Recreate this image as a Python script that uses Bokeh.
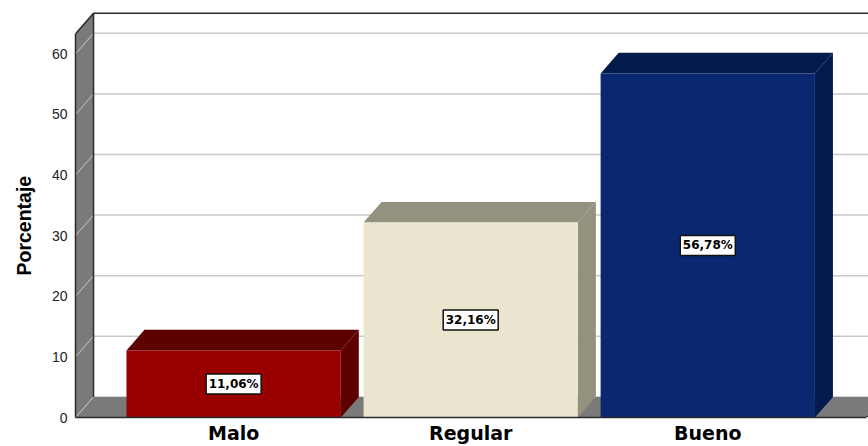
from bokeh.embed import file_html
from bokeh.models import FixedTicker, Range1d, Title
from bokeh.plotting import figure
from bokeh.resources import INLINE
from bokeh.core.properties import value

categories = ["Malo", "Regular", "Bueno"]
percentages = [11.06, 32.16, 56.78]
y_ticks = [0, 10, 20, 30, 40, 50, 60]
front_colors = ["#990000", "#ebe5d0", "#0a2870"]
shade_colors = ["#5c0000", "#95917f", "#051a4c"]

Y_TOP = 63.3
BAR_WIDTH = 0.904
DEPTH_X = 0.076
DEPTH_Y = 3.4
X_LEFT = -0.667
X_RIGHT = 2.67
WALL = "#7a7a7a"
GRID = "#c8c8c8"
EDGE = "#2b2b2b"

p = figure(
    width=868, height=446, output_backend="svg", toolbar_location=None,
    x_range=Range1d(X_LEFT, 2.678), y_range=Range1d(0, 67.16),
    min_border_left=75, min_border_right=0, min_border_top=10, min_border_bottom=29,
)
p.outline_line_color = None
p.xgrid.visible = False
p.ygrid.visible = False

# Back wall gridlines, shifted by the depth of the box
p.segment(x0=[X_LEFT + DEPTH_X] * len(y_ticks), x1=[X_RIGHT + DEPTH_X + 0.1] * len(y_ticks),
          y0=[t + DEPTH_Y for t in y_ticks], y1=[t + DEPTH_Y for t in y_ticks],
          line_color=GRID, line_width=1.5)

# Left wall and floor of the box
p.patch([X_LEFT, X_LEFT + DEPTH_X, X_LEFT + DEPTH_X, X_LEFT],
        [0, DEPTH_Y, Y_TOP + DEPTH_Y, Y_TOP],
        fill_color=WALL, line_color=None)
p.patch([X_LEFT, X_RIGHT, X_RIGHT + DEPTH_X, X_LEFT + DEPTH_X],
        [0, 0, DEPTH_Y, DEPTH_Y],
        fill_color=WALL, line_color=None)

# Gridlines carried across the left wall
p.segment(x0=[X_LEFT] * len(y_ticks), x1=[X_LEFT + DEPTH_X] * len(y_ticks),
          y0=y_ticks, y1=[t + DEPTH_Y for t in y_ticks],
          line_color=GRID, line_width=1)

# Box edges
p.line([X_LEFT, X_LEFT + DEPTH_X, X_RIGHT + DEPTH_X + 0.1],
       [Y_TOP, Y_TOP + DEPTH_Y, Y_TOP + DEPTH_Y], line_color=EDGE, line_width=1.5)
p.line([X_LEFT + DEPTH_X, X_LEFT + DEPTH_X], [DEPTH_Y, Y_TOP + DEPTH_Y],
       line_color=EDGE, line_width=1.5)
p.line([X_RIGHT, X_RIGHT + DEPTH_X], [0, DEPTH_Y], line_color=EDGE, line_width=1)

# Extruded bars: side and top faces, then the front
for i, v in enumerate(percentages):
    x0 = i - BAR_WIDTH / 2
    x1 = i + BAR_WIDTH / 2
    p.patch([x1, x1 + DEPTH_X, x1 + DEPTH_X, x1],
            [0, DEPTH_Y, v + DEPTH_Y, v], fill_color=shade_colors[i], line_color=None)
    p.patch([x0, x1, x1 + DEPTH_X, x0 + DEPTH_X],
            [v, v, v + DEPTH_Y, v + DEPTH_Y], fill_color=shade_colors[i], line_color=None)
    p.quad(left=[x0], right=[x1], bottom=[0], top=[v],
           fill_color=front_colors[i], line_color=None)

# Value labels in small framed boxes at mid-height of each bar
xs = list(range(len(categories)))
mids = [v / 2 for v in percentages]
texts = [f"{v:.2f}%".replace(".", ",") for v in percentages]
p.rect(x=xs, y=mids, width=55, height=20, width_units="screen", height_units="screen",
       fill_color="white", line_color="#111111", line_width=1.5)
p.text(x=xs, y=mids, text=texts, text_align="center", text_baseline="middle",
       text_font=value("DejaVu Sans"), text_font_style="bold",
       text_font_size="12px", text_color="#000000")

yaxis = p.yaxis[0]
yaxis.ticker = FixedTicker(ticks=y_ticks)
yaxis.bounds = (0, Y_TOP)
yaxis.axis_line_color = EDGE
yaxis.axis_line_width = 1.5
yaxis.major_tick_line_color = None
yaxis.minor_tick_line_color = None
yaxis.major_tick_out = 0
yaxis.major_tick_in = 0
yaxis.minor_tick_out = 0
yaxis.minor_tick_in = 0
yaxis.major_label_standoff = 8
yaxis.major_label_text_font = "Liberation Sans"
yaxis.major_label_text_font_size = "14px"
yaxis.major_label_text_color = "#222222"

# The vertical title starts part way up the frame
p.add_layout(Title(text="Porcentaje", align="left", offset=142, standoff=24,
                   vertical_align="top",
                   text_font="Liberation Sans", text_font_style="bold",
                   text_font_size="19.5px", text_color="#000000"), "left")

xaxis = p.xaxis[0]
xaxis.ticker = FixedTicker(ticks=xs)
xaxis.major_label_overrides = dict(zip(xs, categories))
xaxis.bounds = (X_LEFT, X_RIGHT)
xaxis.axis_line_color = EDGE
xaxis.axis_line_width = 1.5
xaxis.major_tick_line_color = None
xaxis.minor_tick_line_color = None
xaxis.major_tick_out = 0
xaxis.major_tick_in = 0
xaxis.minor_tick_out = 0
xaxis.minor_tick_in = 0
xaxis.major_label_standoff = 4
xaxis.major_label_text_font = "DejaVu Sans"
xaxis.major_label_text_font_style = "bold"
xaxis.major_label_text_font_size = "19px"
xaxis.major_label_text_color = "#000000"

open("out.html", "w").write(file_html(p, INLINE))
